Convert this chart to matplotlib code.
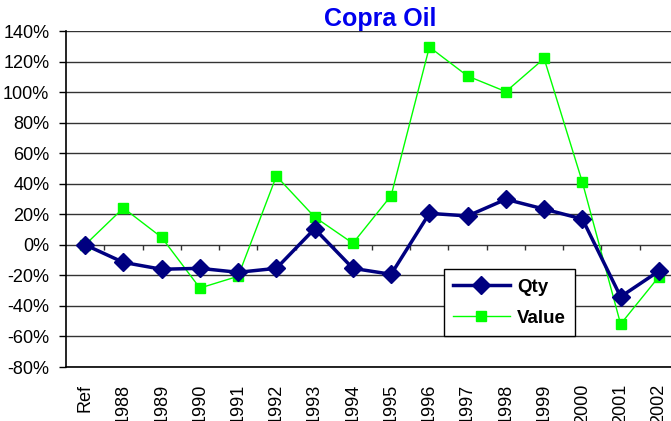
import numpy as np
import matplotlib.pyplot as plt
from matplotlib.ticker import FuncFormatter

plt.rcParams['font.family'] = ['Liberation Sans', 'DejaVu Sans']

# data (% change vs reference year)
years = ['Ref', '1988', '1989', '1990', '1991', '1992', '1993', '1994',
         '1995', '1996', '1997', '1998', '1999', '2000', '2001', '2002']
qty = [0, -11.5, -16, -15.4, -18, -15.4, 10.5, -15.4,
       -19.3, 20.6, 18.9, 29.8, 23.4, 16.9, -34, -17.2]
value = [0, 24.1, 4.9, -28.3, -20.6, 45, 18.2, 1,
         32.2, 129.5, 110.5, 100.3, 122, 41, -51.9, -20.9]

fig = plt.figure(figsize=(6.71, 4.21), dpi=100)
# the plot area runs slightly past the right edge, as in the original
ax = fig.add_axes([66 / 671, 54 / 421, 612 / 671, 336 / 421])

x = np.arange(len(years))

ax.plot(x, qty, color='#000080', lw=2.5, marker='D', markersize=9,
        label='Qty', zorder=4)
ax.plot(x, value, color='#00FF00', lw=1, marker='s', markersize=7.5,
        label='Value', zorder=3)

ax.set_xlim(-0.5, len(years) - 0.5)
ax.set_ylim(-80, 140)
ax.set_yticks(np.arange(-80, 141, 20))
ax.yaxis.set_major_formatter(FuncFormatter(lambda v, p: f'{v:.0f}%'))
ax.grid(axis='y', color='#333333', lw=1)
ax.set_axisbelow(True)

# category ticks sit on the zero line, at the bin edges
edges = np.arange(len(years) - 1) + 0.5
ax.vlines(edges, -3.5, 0, color='#333333', lw=1, zorder=2)

ax.set_xticks(x)
ax.set_xticklabels(years, rotation=90, fontsize=13)
ax.tick_params(axis='x', length=0, pad=12)
ax.tick_params(axis='y', labelsize=13, length=5, width=1, pad=7)

for s in ['top', 'right']:
    ax.spines[s].set_visible(False)
ax.spines['left'].set_linewidth(1.2)
ax.spines['bottom'].set_linewidth(1.2)

fig.text(380 / 671, 1 - 19 / 421, 'Copra Oil', color='#0000EE', fontsize=18,
         fontweight='bold', ha='center', va='center')

leg = ax.legend(loc='upper left', bbox_to_anchor=((444 - 66) / 612, (367 - 269) / 336),
                prop={'weight': 'bold', 'size': 13.5}, frameon=True, fancybox=False,
                edgecolor='black', framealpha=1, handlelength=3.0,
                borderpad=0.5, labelspacing=0.75, handletextpad=0.4,
                borderaxespad=0)
leg.get_frame().set_linewidth(1)

plt.savefig('out.png', dpi=100)
plt.close()
